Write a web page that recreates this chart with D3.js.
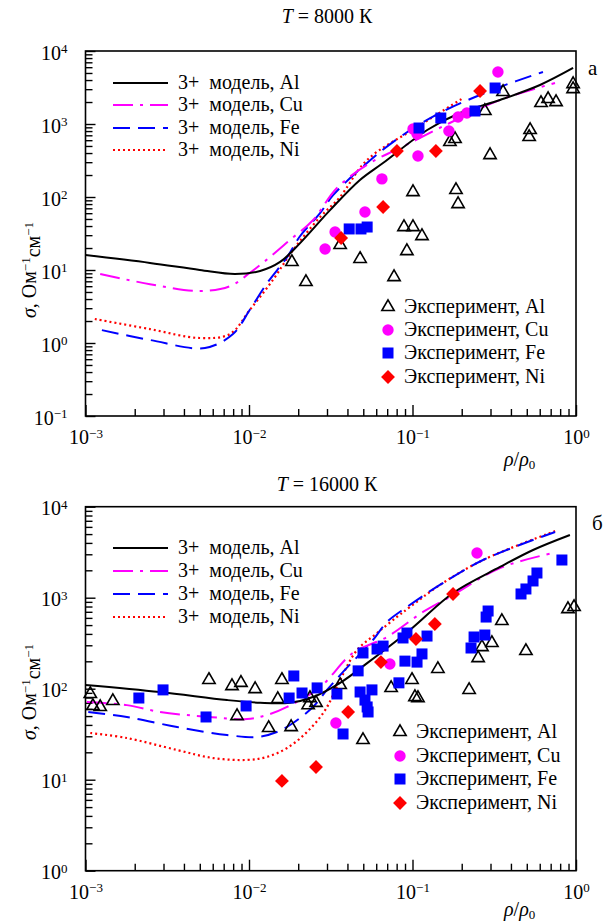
<!DOCTYPE html>
<html>
<head>
<meta charset="utf-8">
<script src="https://cdn.jsdelivr.net/npm/d3@7"></script>
<style>
body { margin: 0; background: #fff; }
svg text, svg tspan { font-family: "Liberation Serif", "Times New Roman", "DejaVu Serif", serif !important; fill: #000; }
</style>
</head>
<body>
<svg id="chart" width="605" height="924" font-family="Liberation Serif, serif"></svg>
<script>
// ---- data, [rho/rho0, sigma] ----
// T = 8000 K
var alModel8000 = [[0.001,16.0],[0.00248,12.5],[0.005,10],[0.0082,8.8],[0.0117,9.7],[0.0155,12.9],[0.0204,23],[0.0313,66],[0.0477,171],[0.066,292],[0.123,828],[0.195,1415],[0.343,2133],[0.602,3420],[0.96,5850]];
var cuModel8000 = [[0.00123,8.8],[0.00248,6.4],[0.005,5.15],[0.00766,6.0],[0.0101,9.1],[0.0134,15],[0.0178,25.8],[0.0246,48],[0.0345,133],[0.0549,292],[0.0838,469],[0.169,1032],[0.343,2133],[0.744,3650]];
var feModel8000 = [[0.00126,1.5],[0.00248,1.1],[0.00538,0.855],[0.00798,1.33],[0.0101,2.83],[0.0129,6.6],[0.0171,15],[0.0205,29],[0.0272,60],[0.0327,106],[0.0527,292],[0.0839,664],[0.147,1415],[0.343,3213],[0.628,5150]];
var niModel8000 = [[0.00114,2.13],[0.00248,1.55],[0.005,1.17],[0.00766,1.33],[0.0101,2.83],[0.014,7.3],[0.0186,18.8],[0.0272,53],[0.036,100],[0.0527,321],[0.107,910],[0.204,2270]];

var alExp8000 = [[0.0183,12.9],[0.0223,6.85],[0.0361,22],[0.0478,14.2],[0.0771,8.0],[0.0887,38.8],[0.1007,38.8],[0.0924,18.2],[0.1143,29.2],[0.190,80],[0.1007,117],[0.1845,125],[0.1694,567],[0.182,624],[0.277,1507],[0.358,2744],[0.298,376],[0.524,828],[0.517,664],[0.611,1940],[0.675,2200],[0.755,2000],[0.96,3530],[0.96,3015]];
var cuExp8000 = [[0.0292,19.4],[0.0336,33.2],[0.0512,62.4],[0.065,177],[0.108,364],[0.1007,855],[0.1066,730],[0.167,802],[0.190,1247],[0.215,1415],[0.333,5150]];
var feExp8000 = [[0.0410,36.5],[0.0484,36.5],[0.0528,38.8],[0.1096,881],[0.149,1208],[0.241,1507],[0.320,3112]];
var niExp8000 = [[0.0366,27.4],[0.0661,73],[0.0803,427],[0.139,427],[0.259,2831]];

// T = 16000 K
var alModel16000 = [[0.001,110],[0.00286,92],[0.00733,75],[0.0117,70],[0.0178,70],[0.0246,81],[0.0361,116],[0.0528,191],[0.0966,442],[0.177,1127],[0.343,2175],[0.546,3345],[0.918,4890]];
var cuModel16000 = [[0.00102,71.4],[0.00179,66],[0.00286,55.5],[0.00577,48.9],[0.00973,46.5],[0.0129,51.4],[0.0171,63],[0.0272,104],[0.0432,247],[0.0698,370],[0.116,697],[0.169,1018],[0.343,2120],[0.723,3100]];
var feModel16000 = [[0.00104,55.5],[0.00179,48.9],[0.00363,37.9],[0.00733,31],[0.0112,29.4],[0.0148,33.4],[0.0186,42],[0.0246,63],[0.030,97],[0.0376,153],[0.0573,343],[0.0698,541],[0.0925,791],[0.147,1380],[0.27,2596],[0.745,5270]];
var niModel16000 = [[0.00107,32.6],[0.00179,28.7],[0.00363,21.2],[0.00603,17.3],[0.00973,16.5],[0.0129,17.8],[0.0171,22.3],[0.0226,33.4],[0.0292,58],[0.0361,125],[0.0458,266],[0.0607,409],[0.0803,614],[0.0966,791],[0.147,1380],[0.27,2596],[0.745,5400]];

var alExp16000 = [[0.00107,87.5],[0.00111,64.6],[0.00123,63],[0.00147,73.3],[0.00569,125],[0.00787,107],[0.00893,116],[0.0109,99],[0.00845,50],[0.0159,125],[0.0150,77],[0.0132,37],[0.0181,37.9],[0.0236,79],[0.0230,66],[0.0257,70],[0.0361,110],[0.074,102],[0.0498,27.3],[0.0993,125],[0.1035,81],[0.108,79],[0.143,165],[0.222,97],[0.252,217],[0.266,287],[0.306,318],[0.352,555],[0.494,260],[0.893,751],[0.973,791]];
var cuExp16000 = [[0.0340,42],[0.0727,187],[0.248,3100]];
var feExp16000 = [[0.00212,79],[0.00298,97],[0.00546,48.9],[0.0096,64.6],[0.0176,79],[0.0188,138],[0.0211,89.7],[0.0261,102],[0.0345,87.5],[0.0376,31.8],[0.0465,157],[0.0498,247],[0.0607,273],[0.0661,294],[0.0875,361],[0.0925,409],[0.0899,201],[0.0826,116],[0.0478,92],[0.0565,97],[0.0512,75],[0.0528,63],[0.0535,55.5],[0.1066,196],[0.1143,241],[0.1227,379],[0.228,280],[0.238,370],[0.277,389],[0.282,613],[0.290,714],[0.461,1099],[0.494,1247],[0.546,1527],[0.577,1868],[0.820,2596]];
var niExp16000 = [[0.0159,9.7],[0.0257,13.8],[0.0404,55.5],[0.0641,196],[0.105,352],[0.137,514],[0.177,1099]];

var metals = ["Al", "Cu", "Fe", "Ni"];
var xTicks = [0.001, 0.01, 0.1, 1];

// ---- styles ----
var serif = "Liberation Serif, Times New Roman, DejaVu Serif, serif";
var lineStyle = {
	Al: { color: "#000", dash: null, width: 2 },
	Cu: { color: "#ff00ff", dash: "20,7,3,7", width: 2 },
	Fe: { color: "#0000ff", dash: "17,8", width: 2 },
	Ni: { color: "#ff0000", dash: "2,3", width: 2.2 }
};

var svg = d3.select("#chart");
var left = 85.5, right = 576;

var panels = [
	{ title: "8000", letter: "а", top: 51, bottom: 416, ymin: 0.1, yTicks: [0.1, 1, 10, 100, 1000, 10000],
	  models: [alModel8000, cuModel8000, feModel8000, niModel8000],
	  exps: [alExp8000, cuExp8000, feExp8000, niExp8000],
	  legLines: { x: 113, y: [83, 105, 128, 150] },
	  legExp: { x: 388, y: [307, 330, 353, 377] },
	  yTitleY: 270, titleY: 23, letterX: 588, letterY: 75, rhoY: 466 },
	{ title: "16000", letter: "б", top: 506.7, bottom: 870.7, ymin: 1, yTicks: [1, 10, 100, 1000, 10000],
	  models: [alModel16000, cuModel16000, feModel16000, niModel16000],
	  exps: [alExp16000, cuExp16000, feExp16000, niExp16000],
	  legLines: { x: 113, y: [548, 571, 594, 617] },
	  legExp: { x: 400, y: [732, 756, 779, 803] },
	  yTitleY: 692, titleY: 491, letterX: 592, letterY: 530, rhoY: 916 }
];

function minorTicks(lo, hi) {
	var t = [];
	for (var e = Math.round(Math.log10(lo)); e < Math.round(Math.log10(hi)); e++)
		for (var k = 2; k <= 9; k++) t.push(k * Math.pow(10, e));
	return t;
}

function powLabels(sel) {
	sel.each(function (d) {
		var e = Math.round(Math.log10(d));
		var t = d3.select(this);
		t.text(null);
		t.append("tspan").text("10");
		t.append("tspan").attr("dy", "-0.5em").attr("font-size", "13px").text(e < 0 ? "\u2212" + (-e) : e);
	});
}

function drawMarker(g, metal, px, py) {
	if (metal == "Al") {
		g.append("path").attr("d", d3.symbol(d3.symbolTriangle, 66)())
			.attr("transform", "translate(" + px + "," + py + ")")
			.attr("fill", "none").attr("stroke", "#000").attr("stroke-width", 1.6);
	} else if (metal == "Cu") {
		g.append("circle").attr("cx", px).attr("cy", py).attr("r", 5.7).attr("fill", "#ff00ff");
	} else if (metal == "Fe") {
		g.append("rect").attr("x", px - 5.5).attr("y", py - 5.5).attr("width", 11).attr("height", 11).attr("fill", "#0000ff");
	} else {
		g.append("rect").attr("x", -4.9).attr("y", -4.9).attr("width", 9.8).attr("height", 9.8)
			.attr("transform", "translate(" + px + "," + py + ") rotate(45)").attr("fill", "#ff0000");
	}
}

function txt(x, y, size) {
	return svg.append("text").attr("x", x).attr("y", y).attr("font-size", size + "px").attr("font-family", serif);
}

panels.forEach(function (p) {
	var x = d3.scaleLog().domain([0.001, 1]).range([left, right]);
	var y = d3.scaleLog().domain([p.ymin, 10000]).range([p.bottom, p.top]);

	// axes, ticks pointing inward
	var xa = svg.append("g").attr("transform", "translate(0," + p.bottom + ")")
		.call(d3.axisBottom(x).tickValues(xTicks).tickSize(-11).tickPadding(14))
		.attr("font-family", serif).attr("font-size", 20);
	xa.selectAll(".tick text").call(powLabels);
	svg.append("g").attr("transform", "translate(0," + p.bottom + ")")
		.call(d3.axisBottom(x).tickValues(minorTicks(0.001, 1)).tickSize(-7).tickFormat(""));

	var ya = svg.append("g").attr("transform", "translate(" + left + ",0)")
		.call(d3.axisLeft(y).tickValues(p.yTicks).tickSize(-10).tickPadding(18))
		.attr("font-family", serif).attr("font-size", 20);
	ya.selectAll(".tick text").attr("dy", "0.4em").call(powLabels);
	svg.append("g").attr("transform", "translate(" + left + ",0)")
		.call(d3.axisLeft(y).tickValues(minorTicks(p.ymin, 10000)).tickSize(-7).tickFormat(""));

	svg.selectAll(".domain").remove();
	svg.selectAll(".tick line").attr("stroke-width", 1.4);

	// frame
	svg.append("rect").attr("x", left).attr("y", p.top)
		.attr("width", right - left).attr("height", p.bottom - p.top)
		.attr("fill", "none").attr("stroke", "#000").attr("stroke-width", 1.6);

	// model curves
	var line = d3.line().x(function (d) { return x(d[0]); }).y(function (d) { return y(d[1]); })
		.curve(d3.curveCatmullRom.alpha(0.5));
	[3, 2, 1, 0].forEach(function (i) {
		var s = lineStyle[metals[i]];
		svg.append("path").datum(p.models[i]).attr("d", line)
			.attr("fill", "none").attr("stroke", s.color).attr("stroke-width", s.width)
			.attr("stroke-dasharray", s.dash);
	});

	// experimental points
	var pts = svg.append("g");
	p.exps.forEach(function (set, i) {
		set.forEach(function (d) { drawMarker(pts, metals[i], x(d[0]), y(d[1])); });
	});

	// legend: model lines
	metals.forEach(function (m, i) {
		var s = lineStyle[m], ly = p.legLines.y[i];
		svg.append("line").attr("x1", p.legLines.x).attr("x2", p.legLines.x + 55)
			.attr("y1", ly).attr("y2", ly)
			.attr("stroke", s.color).attr("stroke-width", s.width).attr("stroke-dasharray", s.dash);
		txt(p.legLines.x + 65, ly + 6, 20).attr("xml:space", "preserve").text("3+  модель, " + m);
	});

	// legend: experiment markers
	metals.forEach(function (m, i) {
		var ly = p.legExp.y[i];
		drawMarker(svg, m, p.legExp.x, ly);
		txt(p.legExp.x + 16, ly + 6, 20).text("Эксперимент, " + m);
	});

	// titles
	var t = txt(327, p.titleY, 20).attr("text-anchor", "middle");
	t.append("tspan").attr("font-style", "italic").text("T");
	t.append("tspan").text(" = " + p.title + " К");

	txt(p.letterX, p.letterY, 21).text(p.letter);

	var r = txt(504, p.rhoY, 20);
	r.append("tspan").attr("font-style", "italic").text("ρ");
	r.append("tspan").text("/");
	r.append("tspan").attr("font-style", "italic").text("ρ");
	r.append("tspan").attr("dy", "0.25em").attr("font-size", "13px").text("0");

	var yt = svg.append("text").attr("transform", "translate(36," + p.yTitleY + ") rotate(-90)")
		.attr("text-anchor", "middle").attr("font-size", "20px").attr("font-family", serif);
	yt.append("tspan").attr("font-style", "italic").text("σ");
	yt.append("tspan").text(", Ом");
	yt.append("tspan").attr("dy", "-0.5em").attr("font-size", "13px").text("\u22121");
	yt.append("tspan").attr("dy", "0.5em").text("см");
	yt.append("tspan").attr("dy", "-0.5em").attr("font-size", "13px").text("\u22121");
});
</script>
</body>
</html>
